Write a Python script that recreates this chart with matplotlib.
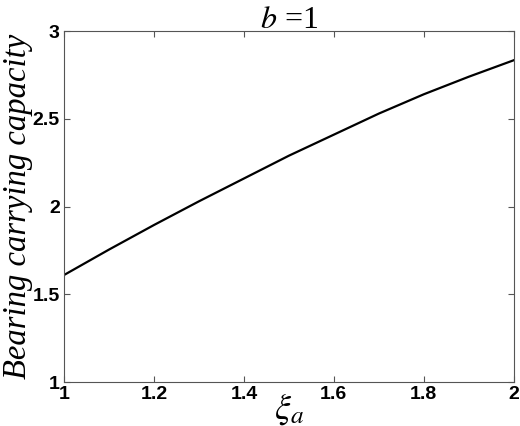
import numpy as np
import matplotlib
matplotlib.use('Agg')
import matplotlib.pyplot as plt

# bearing capacity vs xi_a, b = 1
xi_a = [1.0, 1.1, 1.2, 1.3, 1.4, 1.5, 1.6, 1.7, 1.8, 1.9, 2.0]
capacity = [1.61, 1.755, 1.895, 2.03, 2.16, 2.29, 2.41, 2.53, 2.64, 2.74, 2.834]

plt.rcParams['mathtext.fontset'] = 'stix'

fig = plt.figure(figsize=(5.2, 4.26), dpi=100)
ax = fig.add_axes([0.123, 0.103, 0.865, 0.824])

ax.plot(xi_a, capacity, color='black', linewidth=1.6)

ax.set_xlim(1, 2)
ax.set_ylim(1, 3)
ax.set_xticks([1, 1.2, 1.4, 1.6, 1.8, 2])
ax.set_xticklabels(['1', '1.2', '1.4', '1.6', '1.8', '2'])
ax.set_yticks([1, 1.5, 2, 2.5, 3])
ax.set_yticklabels(['1', '1.5', '2', '2.5', '3'])
ax.tick_params(direction='in', length=4, width=0.8, color='#555555', pad=3,
               top=True, right=True)
for lab in ax.get_xticklabels() + ax.get_yticklabels():
    lab.set_fontfamily('Liberation Sans')
    lab.set_fontweight('bold')
    lab.set_fontsize(14)
for s in ax.spines.values():
    s.set_color('#555555')
    s.set_linewidth(0.8)

ax.set_title(r'$b$ =1', fontfamily='Liberation Serif', fontsize=23, pad=2)
ax.set_ylabel('Bearing carrying capacity', fontfamily='Liberation Serif',
              fontstyle='italic', fontsize=23.5, labelpad=0)
ax.set_xlabel(r'$\xi_a$', fontsize=26, labelpad=-9)

fig.savefig('out.png', dpi=100)
